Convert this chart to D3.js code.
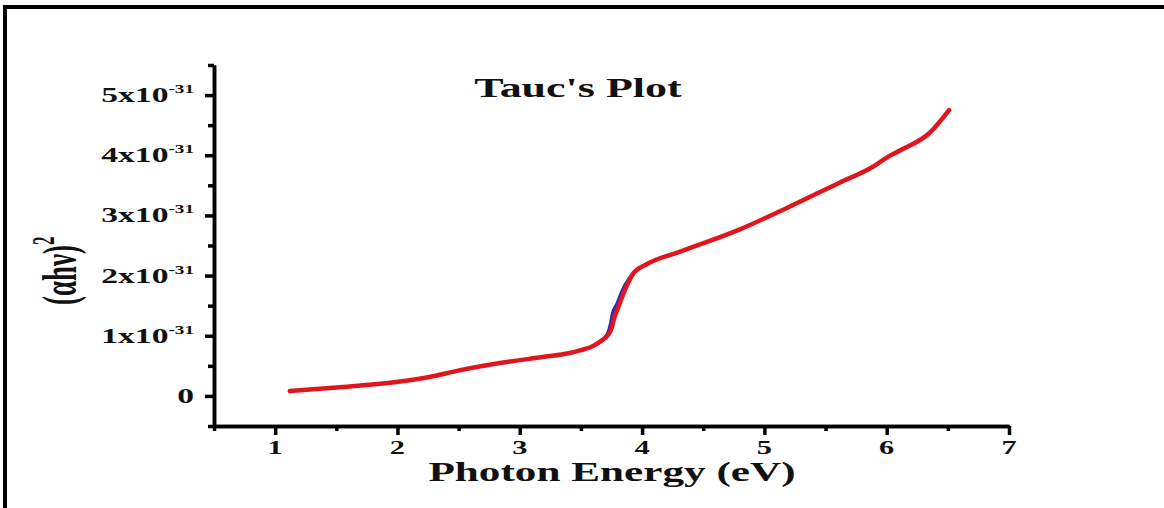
<!DOCTYPE html>
<html>
<head>
<meta charset="utf-8">
<script src="https://cdn.jsdelivr.net/npm/d3@7"></script>
<style>
  html, body { margin: 0; padding: 0; background: #fff; }
  svg { display: block; }
  text { font-family: "Liberation Serif", "Times New Roman", serif; font-weight: bold; fill: #111; }
</style>
</head>
<body>
<svg id="chart" width="1164" height="508"></svg>
<script>
// Photon energy (eV) and (αhν)² in units of 1e-31
const energy = [1.12, 1.5, 1.99, 2.3, 2.45, 2.85, 3.2, 3.4, 3.5, 3.6, 3.67, 3.72, 3.75, 3.77, 3.81, 3.87, 3.93, 4.03, 4.3, 4.79, 5.18, 5.61, 5.88, 6.0, 6.12, 6.35, 6.51];
const redSeries = [0.08, 0.14, 0.23, 0.33, 0.40, 0.55, 0.65, 0.71, 0.76, 0.83, 0.92, 1.01, 1.12, 1.28, 1.50, 1.81, 2.04, 2.18, 2.39, 2.76, 3.12, 3.54, 3.80, 3.96, 4.09, 4.37, 4.75];
const blueEnergy = [3.67, 3.72, 3.745, 3.76, 3.795, 3.855, 3.93];
const blueSeries = [0.92, 1.03, 1.20, 1.36, 1.52, 1.81, 2.04];

const xTicks = [1, 2, 3, 4, 5, 6, 7];
const xMinorTicks = [0.5, 1.5, 2.5, 3.5, 4.5, 5.5, 6.5];
const yTicks = [0, 1, 2, 3, 4, 5];
const yMinorTicks = [-0.5, 0.5, 1.5, 2.5, 3.5, 4.5, 5.5];
const yTickLabels = ["0", "1x10", "2x10", "3x10", "4x10", "5x10"];
const yTickExponent = "-31";

const svg = d3.select("#chart");
const STRETCH = 1.6; // horizontal stretch of the lettering

// frame lines along the top and left edge
svg.append("line").attr("x1", 3).attr("x2", 1164).attr("y1", 7).attr("y2", 7)
  .attr("stroke", "#000").attr("stroke-width", 4);
svg.append("line").attr("x1", 5).attr("x2", 5).attr("y1", 5).attr("y2", 508)
  .attr("stroke", "#000").attr("stroke-width", 4);

const x = d3.scaleLinear().domain([0.5, 7]).range([214, 1009]);
const y = d3.scaleLinear().domain([-0.5, 5.5]).range([426, 65]);

// axes
const axisStyle = g => {
  g.select(".domain").attr("stroke", "#000").attr("stroke-width", 3.5);
  g.selectAll(".tick line").attr("stroke", "#000").attr("stroke-width", 3.5);
};

svg.append("g").attr("transform", `translate(0,${y(-0.5)})`)
  .call(d3.axisBottom(x).tickValues(xMinorTicks).tickSize(5).tickSizeOuter(0).tickFormat(""))
  .call(axisStyle);
svg.append("g").attr("transform", `translate(0,${y(-0.5)})`)
  .call(d3.axisBottom(x).tickValues(xTicks).tickSize(9).tickSizeOuter(0).tickFormat(""))
  .call(axisStyle);
svg.append("g").attr("transform", `translate(${x(0.5)},0)`)
  .call(d3.axisLeft(y).tickValues(yMinorTicks).tickSize(6).tickSizeOuter(0).tickFormat(""))
  .call(axisStyle);
svg.append("g").attr("transform", `translate(${x(0.5)},0)`)
  .call(d3.axisLeft(y).tickValues(yTicks).tickSize(9).tickSizeOuter(0).tickFormat(""))
  .call(axisStyle);

// x tick labels
svg.append("g").selectAll("g").data(xTicks).join("g")
  .attr("transform", d => `translate(${x(d)},454) scale(${STRETCH},1)`)
  .append("text").attr("text-anchor", "middle").attr("font-size", 19).text(d => d);

// y tick labels with exponent
const yl = svg.append("g").selectAll("g").data(yTicks).join("g")
  .attr("transform", d => `translate(194,${y(d) + 7}) scale(${STRETCH},1)`)
  .append("text").attr("text-anchor", "end").attr("font-size", 21);
yl.each(function(d, i) {
  const t = d3.select(this);
  t.append("tspan").text(yTickLabels[i]);
  if (d !== 0) {
    t.append("tspan").attr("font-size", 12).attr("dy", -9).text(yTickExponent);
  }
});

// title
svg.append("g").attr("transform", `translate(578,97) scale(${STRETCH},1)`)
  .append("text").attr("text-anchor", "middle").attr("font-size", 27.5).text("Tauc's Plot");

// x axis title
svg.append("g").attr("transform", `translate(612,481) scale(${STRETCH},1)`)
  .append("text").attr("text-anchor", "middle").attr("font-size", 27).text("Photon Energy (eV)");

// y axis title
const yt = svg.append("g").attr("transform", `translate(76,305) scale(1.8,1) rotate(-90)`)
  .append("text").attr("text-anchor", "start").attr("font-size", 27);
yt.append("tspan").text("(αhν)");
yt.append("tspan").attr("font-size", 17).attr("dy", -12).text("2");

// curves
const line = d3.line().x(d => x(d[0])).y(d => y(d[1])).curve(d3.curveMonotoneX);

svg.append("path").datum(blueEnergy.map((e, i) => [e, blueSeries[i]]))
  .attr("d", line).attr("fill", "none").attr("stroke", "#2a2ab8")
  .attr("stroke-width", 4).attr("stroke-linecap", "round");

svg.append("path").datum(energy.map((e, i) => [e, redSeries[i]]))
  .attr("d", line).attr("fill", "none").attr("stroke", "#e0161e")
  .attr("stroke-width", 4.5).attr("stroke-linecap", "round").attr("stroke-linejoin", "round");
</script>
</body>
</html>
